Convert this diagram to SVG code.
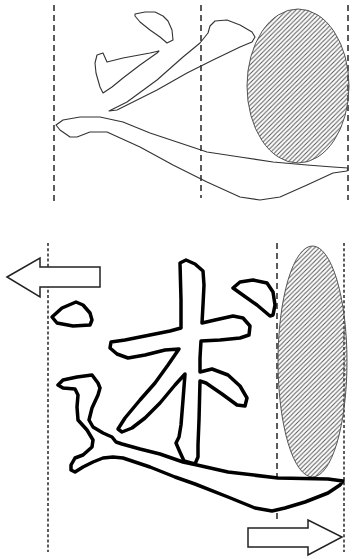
<svg xmlns="http://www.w3.org/2000/svg" width="356" height="559" viewBox="0 0 356 559">
<style>
.bg{fill:#fff}
.thin{fill:none;stroke:#333;stroke-width:1.1;stroke-linejoin:round}
.thick{fill:#fff;stroke:#000;stroke-width:3.5;stroke-linejoin:round}
.dash{stroke:#333;stroke-width:1.6;stroke-dasharray:6 4;fill:none}
.dot{stroke:#333;stroke-width:1.6;stroke-dasharray:3 2.2;fill:none}
.hatch{fill:url(#hatch);stroke:#555;stroke-width:1}
.arrow{fill:#fff;stroke:#222;stroke-width:1.5;stroke-linejoin:miter}
</style>
<defs>
<pattern id="hatch" patternUnits="userSpaceOnUse" width="4.5" height="4.5">
<path d="M-1,1 L1,-1 M0,4.5 L4.5,0 M3.5,5.5 L5.5,3.5" stroke="#555" stroke-width="1"/>
</pattern>
</defs>
<rect class="bg" x="0" y="0" width="356" height="559"/>

<g id="top-panel">
<g id="top-guides">
<line class="dash" x1="54" y1="5" x2="54" y2="203"/>
<line class="dash" x1="201" y1="5" x2="201" y2="198"/>
<line class="dash" x1="348" y1="5" x2="348" y2="200"/>
</g>
<ellipse id="top-ellipse" class="hatch" cx="298" cy="86" rx="51" ry="77"/>
<g id="top-strokes">
<path class="thin" d="M135,14 L145,12 L155,12 L163,16 L168,21 L172,30 L173,40 L167,43 L160,37 L150,30 L140,22 L135,16 Z"/>
<path class="thin" d="M97,55 L103,53 L107,62 L123,58 L150,53 L159,51 L157,53 L140,65 L123,78 L112,87 L103,93 L100,87 L96,73 L95,63 Z"/>
<path class="thin" d="M109,111 L127,102 L157,80 L183,57 L200,43 L208,33 L210,26 L215,21 L227,20 L240,25 L252,32 L255,37 L252,42 L240,47 L213,60 L187,73 L157,90 L133,102 L117,110 Z"/>
<path class="thin" d="M56,125 L63,120 L80,117 L100,117 L123,122 L150,133 L180,143 L207,152 L240,157 L273,162 L307,165 L333,167 L348,168 L347,171 L333,173 L307,185 L280,197 L260,200 L240,197 L207,182 L173,165 L140,147 L107,132 L90,132 L77,137 L70,137 L60,130 Z"/>
</g>
</g>

<g id="bottom-panel">
<g id="bottom-guides">
<line class="dot" x1="48" y1="243" x2="48" y2="552"/>
<line class="dash" x1="277" y1="243" x2="277" y2="520"/>
<line class="dot" x1="344" y1="243" x2="344" y2="552"/>
</g>
<ellipse id="bottom-ellipse" class="hatch" cx="312.5" cy="361.5" rx="34.5" ry="115.5"/>
<g id="character">
<path class="thick" d="M58,385 L63,380 L77,377 L92,375 L98,383 L100,388 L98,395 L92,408 L89,420 L93,427 L103,433 L112,437 L116,442 L122,444 L140,449 L160,454 L183,462 L197,465 L228,472 L278,478 L328,479 L343,481 L340,485 L328,493 L305,502 L285,508 L272,511 L255,508 L228,497 L195,484 L175,477 L150,467 L123,458 L113,457 L103,458 L93,462 L83,467 L75,472 L71,470 L71,465 L75,458 L83,455 L92,447 L93,440 L87,430 L78,420 L77,407 L78,395 L75,389 L63,388 Z"/>
<path class="thick" d="M180,263 L186,260 L195,264 L203,271 L204,285 L203,305 L202,323 L215,320 L233,316 L243,318 L250,326 L249,335 L240,338 L220,340 L201,341 L200,358 L200,372 L212,369 L228,375 L240,386 L247,398 L245,406 L237,405 L222,394 L206,383 L200,381 L199,420 L198,445 L198,457 L195,464 L184,461 L179,450 L176,443 L179,437 L181,425 L183,400 L185,374 L175,385 L160,403 L145,418 L132,428 L122,432 L118,429 L125,418 L140,400 L155,383 L168,365 L179,349 L165,350 L145,355 L128,358 L117,354 L110,348 L111,342 L125,340 L150,335 L170,331 L181,328 L181,300 Z"/>
<path class="thick" d="M52,317 L62,308 L76,302 L83,305 L90,313 L92,320 L90,325 L73,326 L57,323 Z"/>
<path class="thick" d="M233,288 L240,282 L253,280 L267,283 L273,292 L275,305 L273,315 L270,316 L257,305 L240,293 Z"/>
</g>
<g id="arrows">
<polygon class="arrow" points="7,277 40,258 40,267 100,267 100,287 40,287 40,297"/>
<polygon class="arrow" points="248,528 308,528 308,520 342,537 308,555 308,547 248,547"/>
</g>
</g>
</svg>
